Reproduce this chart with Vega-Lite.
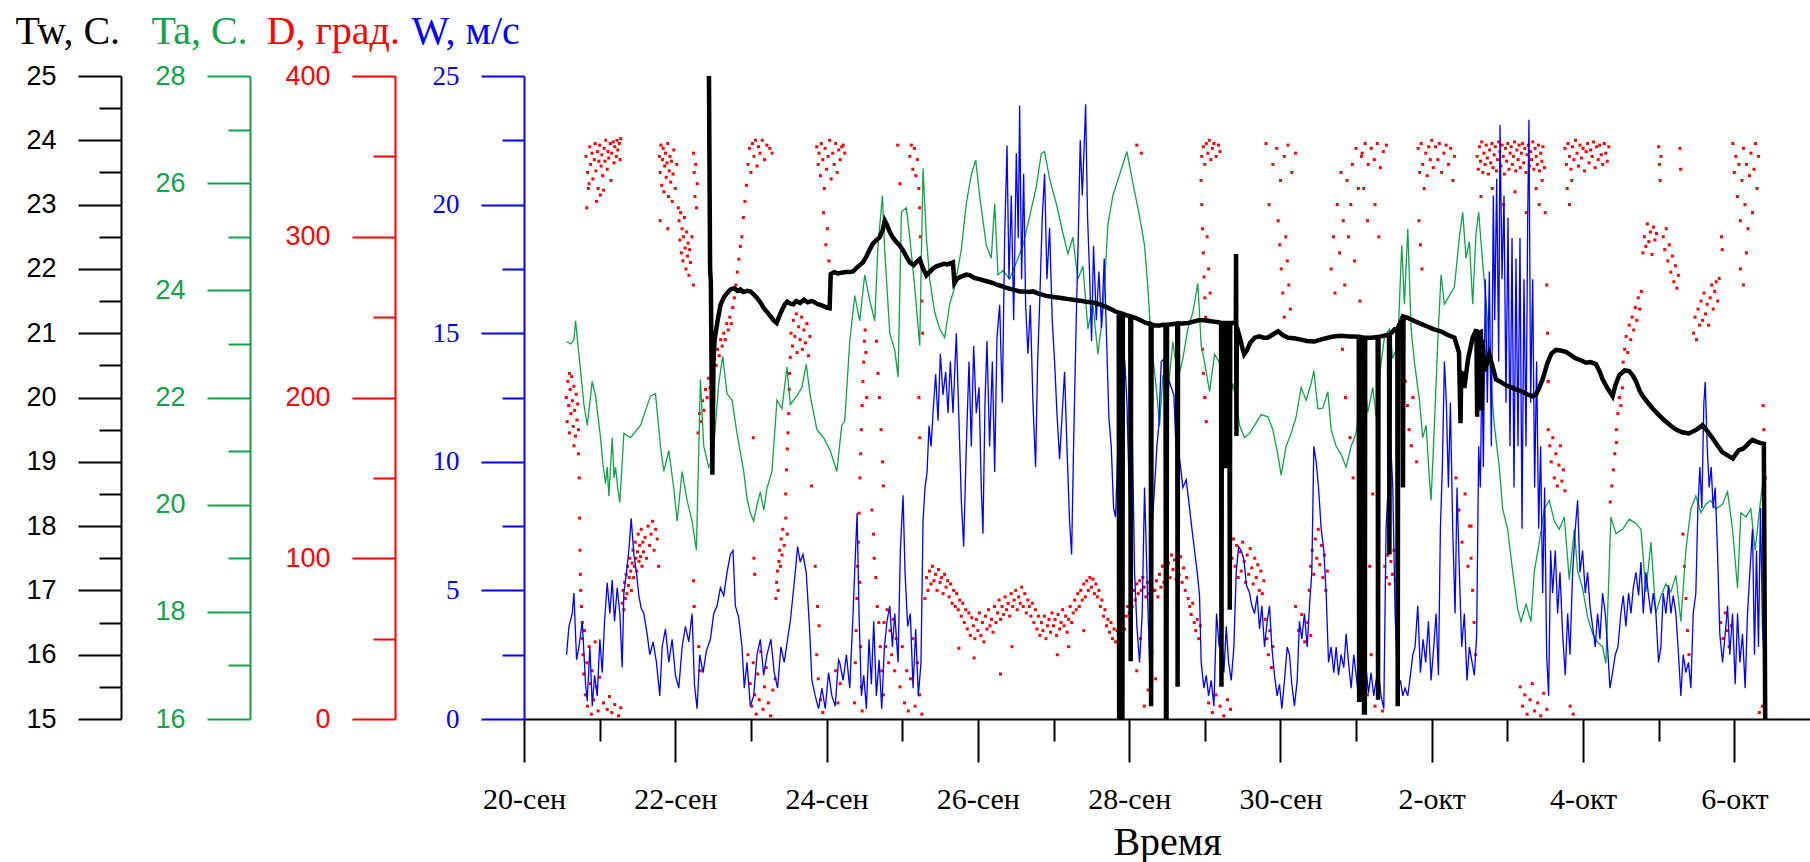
{
"$schema": "https://vega.github.io/schema/vega-lite/v6.json",
"autosize": {"type": "none"},
"padding": {"left": 524, "top": 76, "right": 0, "bottom": 143},
"width": 1286,
"height": 643,
"background": "white",
"config": {"view": {"stroke": null}, "axis": {"grid": false, "domainWidth": 2, "tickWidth": 2, "labelOverlap": false, "labelFlush": false, "titleFontWeight": "normal", "labelFontWeight": "normal"}},
"datasets": {
"tw": [{"d":2.445,"t":25.0},{"d":2.46,"t":22.0},{"d":2.47,"t":21.8},{"d":2.49,"t":18.8},{"d":2.505,"t":20.6},{"d":2.52,"t":20.9},{"d":2.56,"t":21.2},{"d":2.6,"t":21.45},{"d":2.64,"t":21.55},{"d":2.68,"t":21.62},{"d":2.73,"t":21.68},{"d":2.78,"t":21.7},{"d":2.82,"t":21.66},{"d":2.86,"t":21.68},{"d":2.9,"t":21.64},{"d":2.95,"t":21.66},{"d":2.99,"t":21.65},{"d":3.04,"t":21.6},{"d":3.08,"t":21.55},{"d":3.13,"t":21.47},{"d":3.17,"t":21.39},{"d":3.22,"t":21.32},{"d":3.26,"t":21.26},{"d":3.3,"t":21.2},{"d":3.34,"t":21.16},{"d":3.37,"t":21.25},{"d":3.41,"t":21.36},{"d":3.45,"t":21.45},{"d":3.48,"t":21.49},{"d":3.52,"t":21.46},{"d":3.56,"t":21.45},{"d":3.6,"t":21.5},{"d":3.65,"t":21.47},{"d":3.7,"t":21.52},{"d":3.75,"t":21.48},{"d":3.8,"t":21.5},{"d":3.83,"t":21.49},{"d":3.88,"t":21.45},{"d":3.92,"t":21.44},{"d":3.96,"t":21.42},{"d":4.0,"t":21.4},{"d":4.04,"t":21.39},{"d":4.055,"t":21.92},{"d":4.1,"t":21.95},{"d":4.15,"t":21.93},{"d":4.2,"t":21.94},{"d":4.25,"t":21.95},{"d":4.3,"t":21.95},{"d":4.35,"t":21.96},{"d":4.4,"t":22.02},{"d":4.45,"t":22.07},{"d":4.48,"t":22.1},{"d":4.53,"t":22.2},{"d":4.57,"t":22.3},{"d":4.61,"t":22.39},{"d":4.66,"t":22.45},{"d":4.7,"t":22.49},{"d":4.74,"t":22.6},{"d":4.77,"t":22.75},{"d":4.8,"t":22.68},{"d":4.83,"t":22.59},{"d":4.87,"t":22.5},{"d":4.92,"t":22.42},{"d":4.97,"t":22.36},{"d":5.02,"t":22.27},{"d":5.06,"t":22.18},{"d":5.1,"t":22.1},{"d":5.15,"t":22.06},{"d":5.2,"t":22.12},{"d":5.23,"t":22.15},{"d":5.27,"t":22.02},{"d":5.32,"t":21.9},{"d":5.36,"t":21.95},{"d":5.4,"t":22.0},{"d":5.45,"t":22.04},{"d":5.5,"t":22.06},{"d":5.55,"t":22.08},{"d":5.6,"t":22.07},{"d":5.67,"t":22.1},{"d":5.69,"t":21.78},{"d":5.73,"t":21.85},{"d":5.78,"t":21.88},{"d":5.85,"t":21.91},{"d":5.9,"t":21.9},{"d":5.95,"t":21.86},{"d":6.02,"t":21.84},{"d":6.08,"t":21.82},{"d":6.14,"t":21.8},{"d":6.2,"t":21.78},{"d":6.26,"t":21.75},{"d":6.32,"t":21.73},{"d":6.37,"t":21.71},{"d":6.43,"t":21.69},{"d":6.49,"t":21.67},{"d":6.55,"t":21.65},{"d":6.61,"t":21.65},{"d":6.67,"t":21.64},{"d":6.73,"t":21.65},{"d":6.79,"t":21.62},{"d":6.85,"t":21.6},{"d":6.9,"t":21.58},{"d":6.96,"t":21.57},{"d":7.02,"t":21.56},{"d":7.08,"t":21.55},{"d":7.14,"t":21.54},{"d":7.2,"t":21.53},{"d":7.26,"t":21.52},{"d":7.32,"t":21.51},{"d":7.38,"t":21.5},{"d":7.43,"t":21.49},{"d":7.49,"t":21.48},{"d":7.55,"t":21.47},{"d":7.61,"t":21.45},{"d":7.67,"t":21.42},{"d":7.73,"t":21.39},{"d":7.78,"t":21.36},{"d":7.83,"t":21.33},{"d":7.862,"t":21.32},{"d":7.868,"t":14.5},{"d":7.874,"t":21.31},{"d":7.905,"t":21.3},{"d":7.91,"t":14.5},{"d":7.916,"t":21.3},{"d":7.96,"t":21.28},{"d":8.015,"t":21.26},{"d":8.02,"t":15.9},{"d":8.026,"t":21.26},{"d":8.08,"t":21.24},{"d":8.15,"t":21.2},{"d":8.22,"t":21.16},{"d":8.285,"t":21.14},{"d":8.29,"t":15.2},{"d":8.296,"t":21.14},{"d":8.34,"t":21.12},{"d":8.4,"t":21.12},{"d":8.45,"t":21.13},{"d":8.48,"t":21.13},{"d":8.487,"t":14.5},{"d":8.493,"t":14.5},{"d":8.5,"t":21.13},{"d":8.56,"t":21.14},{"d":8.635,"t":21.15},{"d":8.64,"t":15.5},{"d":8.646,"t":21.15},{"d":8.7,"t":21.15},{"d":8.78,"t":21.16},{"d":8.85,"t":21.18},{"d":8.92,"t":21.2},{"d":9.0,"t":21.2},{"d":9.06,"t":21.19},{"d":9.12,"t":21.18},{"d":9.18,"t":21.17},{"d":9.215,"t":21.16},{"d":9.22,"t":15.5},{"d":9.226,"t":21.16},{"d":9.265,"t":21.16},{"d":9.27,"t":18.9},{"d":9.276,"t":21.16},{"d":9.325,"t":21.16},{"d":9.33,"t":16.7},{"d":9.336,"t":21.16},{"d":9.38,"t":21.16},{"d":9.41,"t":21.16},{"d":9.413,"t":22.23},{"d":9.418,"t":19.4},{"d":9.423,"t":21.1},{"d":9.47,"t":20.9},{"d":9.5,"t":20.75},{"d":9.52,"t":20.67},{"d":9.55,"t":20.72},{"d":9.6,"t":20.85},{"d":9.66,"t":20.93},{"d":9.72,"t":20.95},{"d":9.78,"t":20.93},{"d":9.83,"t":20.93},{"d":9.9,"t":20.98},{"d":9.97,"t":21.03},{"d":10.03,"t":20.97},{"d":10.1,"t":20.93},{"d":10.18,"t":20.92},{"d":10.27,"t":20.9},{"d":10.35,"t":20.88},{"d":10.45,"t":20.87},{"d":10.53,"t":20.9},{"d":10.63,"t":20.93},{"d":10.7,"t":20.95},{"d":10.8,"t":20.96},{"d":10.9,"t":20.95},{"d":10.98,"t":20.95},{"d":11.035,"t":20.94},{"d":11.04,"t":15.3},{"d":11.05,"t":15.3},{"d":11.055,"t":20.94},{"d":11.1,"t":20.93},{"d":11.105,"t":15.1},{"d":11.115,"t":15.1},{"d":11.12,"t":20.93},{"d":11.2,"t":20.93},{"d":11.285,"t":20.94},{"d":11.29,"t":15.3},{"d":11.296,"t":20.94},{"d":11.33,"t":20.95},{"d":11.435,"t":20.98},{"d":11.44,"t":17.56},{"d":11.446,"t":20.98},{"d":11.51,"t":21.06},{"d":11.545,"t":21.06},{"d":11.55,"t":15.2},{"d":11.556,"t":21.1},{"d":11.6,"t":21.2},{"d":11.615,"t":21.26},{"d":11.62,"t":18.6},{"d":11.626,"t":21.26},{"d":11.68,"t":21.24},{"d":11.77,"t":21.19},{"d":11.85,"t":21.15},{"d":11.95,"t":21.1},{"d":12.03,"t":21.06},{"d":12.12,"t":21.03},{"d":12.2,"t":20.98},{"d":12.3,"t":20.93},{"d":12.36,"t":20.7},{"d":12.38,"t":19.6},{"d":12.39,"t":20.41},{"d":12.43,"t":20.15},{"d":12.48,"t":20.6},{"d":12.54,"t":20.93},{"d":12.59,"t":21.06},{"d":12.6,"t":19.7},{"d":12.61,"t":21.0},{"d":12.65,"t":21.02},{"d":12.66,"t":19.8},{"d":12.67,"t":20.9},{"d":12.7,"t":20.41},{"d":12.76,"t":20.67},{"d":12.8,"t":20.5},{"d":12.85,"t":20.28},{"d":12.9,"t":20.25},{"d":12.94,"t":20.22},{"d":13.0,"t":20.18},{"d":13.07,"t":20.15},{"d":13.13,"t":20.12},{"d":13.2,"t":20.09},{"d":13.26,"t":20.05},{"d":13.33,"t":20.02},{"d":13.38,"t":20.05},{"d":13.42,"t":20.15},{"d":13.47,"t":20.3},{"d":13.53,"t":20.54},{"d":13.58,"t":20.68},{"d":13.64,"t":20.74},{"d":13.7,"t":20.73},{"d":13.77,"t":20.71},{"d":13.84,"t":20.66},{"d":13.9,"t":20.61},{"d":13.97,"t":20.58},{"d":14.04,"t":20.54},{"d":14.1,"t":20.55},{"d":14.17,"t":20.52},{"d":14.22,"t":20.4},{"d":14.26,"t":20.28},{"d":14.32,"t":20.15},{"d":14.39,"t":20.02},{"d":14.43,"t":20.2},{"d":14.48,"t":20.35},{"d":14.55,"t":20.42},{"d":14.61,"t":20.41},{"d":14.66,"t":20.34},{"d":14.7,"t":20.25},{"d":14.75,"t":20.1},{"d":14.79,"t":20.02},{"d":14.85,"t":19.93},{"d":14.92,"t":19.83},{"d":15.0,"t":19.73},{"d":15.09,"t":19.63},{"d":15.16,"t":19.56},{"d":15.23,"t":19.5},{"d":15.31,"t":19.46},{"d":15.4,"t":19.44},{"d":15.5,"t":19.5},{"d":15.58,"t":19.57},{"d":15.64,"t":19.48},{"d":15.71,"t":19.37},{"d":15.78,"t":19.25},{"d":15.84,"t":19.15},{"d":15.91,"t":19.1},{"d":15.98,"t":19.05},{"d":16.02,"t":19.12},{"d":16.06,"t":19.18},{"d":16.11,"t":19.2},{"d":16.15,"t":19.24},{"d":16.2,"t":19.3},{"d":16.24,"t":19.34},{"d":16.3,"t":19.31},{"d":16.35,"t":19.29},{"d":16.39,"t":19.28},{"d":16.41,"t":14.5}],
"ta": [{"d":0.563,"a":23.04},{"d":0.62,"a":23.0},{"d":0.66,"a":23.08},{"d":0.682,"a":23.43},{"d":0.726,"a":22.8},{"d":0.792,"a":21.87},{"d":0.836,"a":21.48},{"d":0.902,"a":22.3},{"d":0.946,"a":22.03},{"d":1.012,"a":21.25},{"d":1.04,"a":20.8},{"d":1.078,"a":20.39},{"d":1.1,"a":20.7},{"d":1.122,"a":20.16},{"d":1.166,"a":21.25},{"d":1.19,"a":20.5},{"d":1.21,"a":20.7},{"d":1.24,"a":20.3},{"d":1.267,"a":20.04},{"d":1.32,"a":21.33},{"d":1.408,"a":21.25},{"d":1.54,"a":21.48},{"d":1.672,"a":22.03},{"d":1.738,"a":22.07},{"d":1.804,"a":21.09},{"d":1.848,"a":20.62},{"d":1.914,"a":21.01},{"d":1.98,"a":20.31},{"d":2.024,"a":19.69},{"d":2.09,"a":20.62},{"d":2.156,"a":20.08},{"d":2.222,"a":19.69},{"d":2.279,"a":19.15},{"d":2.332,"a":22.34},{"d":2.376,"a":21.09},{"d":2.442,"a":20.7},{"d":2.499,"a":20.9},{"d":2.574,"a":22.26},{"d":2.627,"a":22.77},{"d":2.684,"a":22.07},{"d":2.75,"a":21.95},{"d":2.816,"a":21.33},{"d":2.904,"a":20.62},{"d":2.95,"a":20.1},{"d":2.992,"a":19.85},{"d":3.036,"a":19.69},{"d":3.08,"a":20.0},{"d":3.124,"a":20.24},{"d":3.17,"a":19.9},{"d":3.212,"a":20.31},{"d":3.278,"a":20.62},{"d":3.344,"a":21.95},{"d":3.41,"a":21.79},{"d":3.476,"a":22.57},{"d":3.52,"a":21.87},{"d":3.608,"a":22.03},{"d":3.674,"a":22.19},{"d":3.731,"a":22.62},{"d":3.784,"a":22.03},{"d":3.872,"a":21.4},{"d":3.96,"a":21.25},{"d":4.048,"a":21.01},{"d":4.136,"a":20.62},{"d":4.2,"a":21.48},{"d":4.24,"a":21.56},{"d":4.306,"a":23.04},{"d":4.372,"a":23.9},{"d":4.438,"a":23.43},{"d":4.504,"a":24.29},{"d":4.57,"a":23.82},{"d":4.636,"a":23.43},{"d":4.68,"a":24.84},{"d":4.738,"a":25.77},{"d":4.768,"a":24.76},{"d":4.835,"a":23.2},{"d":4.901,"a":22.89},{"d":4.945,"a":22.38},{"d":4.989,"a":25.46},{"d":5.055,"a":25.54},{"d":5.099,"a":24.99},{"d":5.165,"a":24.06},{"d":5.231,"a":22.97},{"d":5.275,"a":26.28},{"d":5.319,"a":24.99},{"d":5.363,"a":24.21},{"d":5.429,"a":23.59},{"d":5.495,"a":23.28},{"d":5.561,"a":23.12},{"d":5.627,"a":23.74},{"d":5.693,"a":24.06},{"d":5.781,"a":24.76},{"d":5.847,"a":25.62},{"d":5.913,"a":26.16},{"d":5.971,"a":26.43},{"d":6.023,"a":25.77},{"d":6.111,"a":24.84},{"d":6.177,"a":24.6},{"d":6.222,"a":25.62},{"d":6.266,"a":24.29},{"d":6.332,"a":24.37},{"d":6.42,"a":24.21},{"d":6.508,"a":24.52},{"d":6.596,"a":24.84},{"d":6.684,"a":25.38},{"d":6.772,"a":25.93},{"d":6.838,"a":26.55},{"d":6.882,"a":26.59},{"d":6.948,"a":26.08},{"d":7.036,"a":25.62},{"d":7.124,"a":25.07},{"d":7.19,"a":24.68},{"d":7.256,"a":24.99},{"d":7.322,"a":24.21},{"d":7.388,"a":24.45},{"d":7.455,"a":23.28},{"d":7.521,"a":23.74},{"d":7.587,"a":22.81},{"d":7.653,"a":23.59},{"d":7.719,"a":25.23},{"d":7.785,"a":25.77},{"d":7.873,"a":26.16},{"d":7.97,"a":26.59},{"d":8.049,"a":26.0},{"d":8.137,"a":25.38},{"d":8.203,"a":24.84},{"d":8.247,"a":24.06},{"d":8.291,"a":23.04},{"d":8.357,"a":22.19},{"d":8.402,"a":21.48},{"d":8.446,"a":22.42},{"d":8.512,"a":22.11},{"d":8.578,"a":23.04},{"d":8.644,"a":22.34},{"d":8.71,"a":22.73},{"d":8.776,"a":23.28},{"d":8.842,"a":23.59},{"d":8.908,"a":24.13},{"d":8.952,"a":22.97},{"d":8.997,"a":22.65},{"d":9.063,"a":22.11},{"d":9.129,"a":22.81},{"d":9.195,"a":22.65},{"d":9.261,"a":22.19},{"d":9.305,"a":21.72},{"d":9.371,"a":22.26},{"d":9.415,"a":21.95},{"d":9.459,"a":21.48},{"d":9.525,"a":21.25},{"d":9.591,"a":21.33},{"d":9.657,"a":21.48},{"d":9.745,"a":21.68},{"d":9.833,"a":21.64},{"d":9.899,"a":21.4},{"d":9.965,"a":20.94},{"d":10.009,"a":20.55},{"d":10.075,"a":21.09},{"d":10.141,"a":21.33},{"d":10.207,"a":21.64},{"d":10.273,"a":22.19},{"d":10.339,"a":21.95},{"d":10.405,"a":22.26},{"d":10.441,"a":22.5},{"d":10.494,"a":21.79},{"d":10.56,"a":21.8},{"d":10.626,"a":22.11},{"d":10.67,"a":21.4},{"d":10.736,"a":21.09},{"d":10.802,"a":20.94},{"d":10.868,"a":20.7},{"d":10.934,"a":21.09},{"d":11.0,"a":21.33},{"d":11.044,"a":21.87},{"d":11.088,"a":22.65},{"d":11.154,"a":21.72},{"d":11.22,"a":22.19},{"d":11.264,"a":21.64},{"d":11.33,"a":22.65},{"d":11.374,"a":23.12},{"d":11.44,"a":23.28},{"d":11.484,"a":22.73},{"d":11.55,"a":22.97},{"d":11.603,"a":24.84},{"d":11.638,"a":23.74},{"d":11.683,"a":25.15},{"d":11.727,"a":23.28},{"d":11.771,"a":22.65},{"d":11.837,"a":21.95},{"d":11.881,"a":21.25},{"d":11.925,"a":21.48},{"d":11.969,"a":20.47},{"d":11.991,"a":20.08},{"d":12.035,"a":21.48},{"d":12.079,"a":23.04},{"d":12.123,"a":24.29},{"d":12.167,"a":23.74},{"d":12.233,"a":23.9},{"d":12.299,"a":24.06},{"d":12.365,"a":24.99},{"d":12.409,"a":25.46},{"d":12.453,"a":24.6},{"d":12.497,"a":24.91},{"d":12.541,"a":23.74},{"d":12.585,"a":25.07},{"d":12.62,"a":25.46},{"d":12.673,"a":24.52},{"d":12.739,"a":23.43},{"d":12.783,"a":22.26},{"d":12.827,"a":21.48},{"d":12.893,"a":20.7},{"d":12.937,"a":19.92},{"d":13.003,"a":19.54},{"d":13.069,"a":18.76},{"d":13.135,"a":18.06},{"d":13.179,"a":17.82},{"d":13.246,"a":18.14},{"d":13.312,"a":17.82},{"d":13.356,"a":18.76},{"d":13.422,"a":19.3},{"d":13.488,"a":19.92},{"d":13.554,"a":20.08},{"d":13.62,"a":19.69},{"d":13.686,"a":19.54},{"d":13.752,"a":19.77},{"d":13.818,"a":18.6},{"d":13.884,"a":19.54},{"d":13.928,"a":18.76},{"d":13.994,"a":18.44},{"d":14.06,"a":17.9},{"d":14.126,"a":17.59},{"d":14.192,"a":17.43},{"d":14.258,"a":17.35},{"d":14.302,"a":17.04},{"d":14.368,"a":19.77},{"d":14.434,"a":19.46},{"d":14.523,"a":19.54},{"d":14.611,"a":19.73},{"d":14.699,"a":19.65},{"d":14.765,"a":19.54},{"d":14.831,"a":18.37},{"d":14.897,"a":19.3},{"d":14.963,"a":17.98},{"d":15.029,"a":18.29},{"d":15.095,"a":18.52},{"d":15.161,"a":18.37},{"d":15.227,"a":18.68},{"d":15.293,"a":17.82},{"d":15.359,"a":19.15},{"d":15.425,"a":19.92},{"d":15.491,"a":20.16},{"d":15.557,"a":19.85},{"d":15.623,"a":20.01},{"d":15.689,"a":20.08},{"d":15.755,"a":19.92},{"d":15.844,"a":20.01},{"d":15.91,"a":20.24},{"d":15.976,"a":19.54},{"d":16.042,"a":18.44},{"d":16.086,"a":19.85},{"d":16.152,"a":19.77},{"d":16.218,"a":19.92},{"d":16.275,"a":19.15},{"d":16.328,"a":19.85},{"d":16.372,"a":20.39},{"d":16.398,"a":20.24}],
"w": [{"d":0.563,"w":2.5},{"d":0.594,"w":3.6},{"d":0.638,"w":4.1},{"d":0.66,"w":4.9},{"d":0.695,"w":2.3},{"d":0.726,"w":2.8},{"d":0.77,"w":3.8},{"d":0.814,"w":1.35},{"d":0.836,"w":0.7},{"d":0.871,"w":2.8},{"d":0.902,"w":0.5},{"d":0.933,"w":1.7},{"d":0.968,"w":0.9},{"d":1.003,"w":3.1},{"d":1.034,"w":1.8},{"d":1.065,"w":3.8},{"d":1.1,"w":5.3},{"d":1.135,"w":4.1},{"d":1.166,"w":5.4},{"d":1.197,"w":3.8},{"d":1.232,"w":5.1},{"d":1.267,"w":4.1},{"d":1.298,"w":2.0},{"d":1.32,"w":4.9},{"d":1.355,"w":5.7},{"d":1.386,"w":6.55},{"d":1.417,"w":7.8},{"d":1.452,"w":6.4},{"d":1.487,"w":5.7},{"d":1.518,"w":4.8},{"d":1.549,"w":4.3},{"d":1.584,"w":4.1},{"d":1.628,"w":3.3},{"d":1.663,"w":2.5},{"d":1.707,"w":3.0},{"d":1.751,"w":2.2},{"d":1.795,"w":0.9},{"d":1.826,"w":2.8},{"d":1.87,"w":3.5},{"d":1.914,"w":2.2},{"d":1.958,"w":3.1},{"d":2.002,"w":1.7},{"d":2.046,"w":1.2},{"d":2.09,"w":2.8},{"d":2.134,"w":3.6},{"d":2.178,"w":3.0},{"d":2.222,"w":4.1},{"d":2.253,"w":1.35},{"d":2.288,"w":0.4},{"d":2.323,"w":2.5},{"d":2.367,"w":1.8},{"d":2.411,"w":2.65},{"d":2.464,"w":3.1},{"d":2.508,"w":4.1},{"d":2.552,"w":4.4},{"d":2.596,"w":5.1},{"d":2.64,"w":4.8},{"d":2.684,"w":5.7},{"d":2.728,"w":6.4},{"d":2.763,"w":6.55},{"d":2.794,"w":4.4},{"d":2.838,"w":3.95},{"d":2.882,"w":2.8},{"d":2.912,"w":1.2},{"d":2.948,"w":2.2},{"d":2.992,"w":0.5},{"d":3.036,"w":0.9},{"d":3.08,"w":2.5},{"d":3.124,"w":3.1},{"d":3.168,"w":1.7},{"d":3.212,"w":2.5},{"d":3.264,"w":3.1},{"d":3.308,"w":1.8},{"d":3.352,"w":1.2},{"d":3.396,"w":2.8},{"d":3.44,"w":2.2},{"d":3.484,"w":3.1},{"d":3.52,"w":3.8},{"d":3.555,"w":4.8},{"d":3.586,"w":5.7},{"d":3.616,"w":6.7},{"d":3.652,"w":6.1},{"d":3.687,"w":6.4},{"d":3.731,"w":5.7},{"d":3.775,"w":3.5},{"d":3.806,"w":1.5},{"d":3.85,"w":0.9},{"d":3.894,"w":0.4},{"d":3.938,"w":1.2},{"d":3.982,"w":0.4},{"d":4.026,"w":1.8},{"d":4.07,"w":0.9},{"d":4.114,"w":0.5},{"d":4.158,"w":2.3},{"d":4.174,"w":2.2},{"d":4.218,"w":1.5},{"d":4.262,"w":2.5},{"d":4.306,"w":1.2},{"d":4.35,"w":4.1},{"d":4.385,"w":6.7},{"d":4.403,"w":8.0},{"d":4.429,"w":4.1},{"d":4.46,"w":0.9},{"d":4.491,"w":1.7},{"d":4.526,"w":0.4},{"d":4.561,"w":3.1},{"d":4.592,"w":1.35},{"d":4.623,"w":3.8},{"d":4.658,"w":0.9},{"d":4.694,"w":2.3},{"d":4.729,"w":0.4},{"d":4.764,"w":2.8},{"d":4.799,"w":3.8},{"d":4.835,"w":4.4},{"d":4.87,"w":2.8},{"d":4.901,"w":4.1},{"d":4.945,"w":2.2},{"d":4.975,"w":6.55},{"d":5.011,"w":8.7},{"d":5.037,"w":5.7},{"d":5.072,"w":3.6},{"d":5.107,"w":4.1},{"d":5.143,"w":1.2},{"d":5.178,"w":3.5},{"d":5.213,"w":0.9},{"d":5.248,"w":2.2},{"d":5.275,"w":7.7},{"d":5.301,"w":9.0},{"d":5.328,"w":9.6},{"d":5.354,"w":11.4},{"d":5.381,"w":10.6},{"d":5.407,"w":11.9},{"d":5.442,"w":13.4},{"d":5.473,"w":11.6},{"d":5.504,"w":14.2},{"d":5.539,"w":12.6},{"d":5.574,"w":13.5},{"d":5.605,"w":11.9},{"d":5.636,"w":13.9},{"d":5.671,"w":11.9},{"d":5.715,"w":15.0},{"d":5.75,"w":11.6},{"d":5.781,"w":8.5},{"d":5.812,"w":6.7},{"d":5.847,"w":10.6},{"d":5.883,"w":13.9},{"d":5.913,"w":10.6},{"d":5.944,"w":14.5},{"d":5.979,"w":11.9},{"d":6.015,"w":12.9},{"d":6.045,"w":9.0},{"d":6.067,"w":7.2},{"d":6.094,"w":12.3},{"d":6.12,"w":14.7},{"d":6.155,"w":10.6},{"d":6.191,"w":13.9},{"d":6.222,"w":9.6},{"d":6.252,"w":14.8},{"d":6.288,"w":16.1},{"d":6.323,"w":12.3},{"d":6.354,"w":18.7},{"d":6.385,"w":22.3},{"d":6.411,"w":17.1},{"d":6.442,"w":20.35},{"d":6.473,"w":15.5},{"d":6.508,"w":22.0},{"d":6.534,"w":18.7},{"d":6.552,"w":23.85},{"d":6.578,"w":17.1},{"d":6.605,"w":21.2},{"d":6.631,"w":16.1},{"d":6.662,"w":14.2},{"d":6.693,"w":16.1},{"d":6.728,"w":12.3},{"d":6.763,"w":9.8},{"d":6.79,"w":13.9},{"d":6.816,"w":16.1},{"d":6.851,"w":19.5},{"d":6.882,"w":21.2},{"d":6.913,"w":17.1},{"d":6.948,"w":19.1},{"d":6.983,"w":15.5},{"d":7.014,"w":13.9},{"d":7.045,"w":11.9},{"d":7.08,"w":10.1},{"d":7.115,"w":11.9},{"d":7.146,"w":13.5},{"d":7.177,"w":10.6},{"d":7.212,"w":7.7},{"d":7.239,"w":6.4},{"d":7.265,"w":10.6},{"d":7.3,"w":15.5},{"d":7.327,"w":18.7},{"d":7.353,"w":22.5},{"d":7.38,"w":20.35},{"d":7.406,"w":22.3},{"d":7.424,"w":23.9},{"d":7.45,"w":19.5},{"d":7.476,"w":17.4},{"d":7.503,"w":14.7},{"d":7.529,"w":18.4},{"d":7.565,"w":15.5},{"d":7.6,"w":17.4},{"d":7.635,"w":15.2},{"d":7.67,"w":17.9},{"d":7.697,"w":15.2},{"d":7.732,"w":11.7},{"d":7.763,"w":10.6},{"d":7.794,"w":8.2},{"d":7.82,"w":7.85},{"d":7.851,"w":10.6},{"d":7.882,"w":11.9},{"d":7.917,"w":14.2},{"d":7.943,"w":13.9},{"d":7.97,"w":12.3},{"d":8.005,"w":8.3},{"d":8.04,"w":11.3},{"d":8.071,"w":5.7},{"d":8.102,"w":3.6},{"d":8.137,"w":2.2},{"d":8.172,"w":4.1},{"d":8.203,"w":9.0},{"d":8.234,"w":5.7},{"d":8.269,"w":2.2},{"d":8.304,"w":7.4},{"d":8.335,"w":9.0},{"d":8.366,"w":10.6},{"d":8.392,"w":11.4},{"d":8.424,"w":13.9},{"d":8.459,"w":14.0},{"d":8.49,"w":7.4},{"d":8.521,"w":13.2},{"d":8.556,"w":12.9},{"d":8.591,"w":12.6},{"d":8.618,"w":10.6},{"d":8.644,"w":10.6},{"d":8.679,"w":9.8},{"d":8.71,"w":9.0},{"d":8.754,"w":9.3},{"d":8.798,"w":8.2},{"d":8.829,"w":7.4},{"d":8.864,"w":6.55},{"d":8.9,"w":5.7},{"d":8.93,"w":4.8},{"d":8.952,"w":2.2},{"d":8.988,"w":1.2},{"d":9.019,"w":1.7},{"d":9.049,"w":0.9},{"d":9.085,"w":1.5},{"d":9.12,"w":0.5},{"d":9.155,"w":4.1},{"d":9.19,"w":2.8},{"d":9.217,"w":3.5},{"d":9.252,"w":1.8},{"d":9.283,"w":3.6},{"d":9.314,"w":2.2},{"d":9.349,"w":1.5},{"d":9.384,"w":2.8},{"d":9.415,"w":5.7},{"d":9.446,"w":6.7},{"d":9.481,"w":6.55},{"d":9.516,"w":6.2},{"d":9.551,"w":5.2},{"d":9.591,"w":4.9},{"d":9.622,"w":4.4},{"d":9.657,"w":4.1},{"d":9.692,"w":4.8},{"d":9.723,"w":3.5},{"d":9.754,"w":4.4},{"d":9.789,"w":2.8},{"d":9.824,"w":3.8},{"d":9.855,"w":4.4},{"d":9.886,"w":2.8},{"d":9.921,"w":1.7},{"d":9.956,"w":0.9},{"d":9.987,"w":1.35},{"d":10.018,"w":0.4},{"d":10.053,"w":1.5},{"d":10.089,"w":2.8},{"d":10.119,"w":2.5},{"d":10.15,"w":1.35},{"d":10.185,"w":0.5},{"d":10.221,"w":1.5},{"d":10.251,"w":3.8},{"d":10.282,"w":3.1},{"d":10.317,"w":4.1},{"d":10.353,"w":2.8},{"d":10.384,"w":4.4},{"d":10.414,"w":5.7},{"d":10.441,"w":10.6},{"d":10.472,"w":10.0},{"d":10.503,"w":9.0},{"d":10.538,"w":7.4},{"d":10.573,"w":6.55},{"d":10.604,"w":4.9},{"d":10.635,"w":2.2},{"d":10.67,"w":2.8},{"d":10.705,"w":1.8},{"d":10.736,"w":2.8},{"d":10.767,"w":1.7},{"d":10.802,"w":2.5},{"d":10.837,"w":2.0},{"d":10.868,"w":3.3},{"d":10.899,"w":2.2},{"d":10.934,"w":1.2},{"d":10.969,"w":2.5},{"d":11.0,"w":1.7},{"d":11.031,"w":0.9},{"d":11.066,"w":2.8},{"d":11.101,"w":0.5},{"d":11.132,"w":2.0},{"d":11.163,"w":1.0},{"d":11.198,"w":1.8},{"d":11.233,"w":0.9},{"d":11.264,"w":1.5},{"d":11.295,"w":1.8},{"d":11.33,"w":0.9},{"d":11.366,"w":0.4},{"d":11.396,"w":7.4},{"d":11.427,"w":9.3},{"d":11.454,"w":10.9},{"d":11.485,"w":9.0},{"d":11.515,"w":4.1},{"d":11.55,"w":1.2},{"d":11.586,"w":1.5},{"d":11.617,"w":0.9},{"d":11.647,"w":1.2},{"d":11.683,"w":0.9},{"d":11.718,"w":1.7},{"d":11.749,"w":2.5},{"d":11.779,"w":2.8},{"d":11.815,"w":4.4},{"d":11.85,"w":1.8},{"d":11.885,"w":3.1},{"d":11.92,"w":2.2},{"d":11.956,"w":3.8},{"d":11.991,"w":1.5},{"d":12.026,"w":2.8},{"d":12.057,"w":4.1},{"d":12.088,"w":1.7},{"d":12.114,"w":7.4},{"d":12.14,"w":9.8},{"d":12.167,"w":13.9},{"d":12.193,"w":12.3},{"d":12.22,"w":9.0},{"d":12.246,"w":12.3},{"d":12.277,"w":7.4},{"d":12.308,"w":4.1},{"d":12.334,"w":9.0},{"d":12.365,"w":5.7},{"d":12.396,"w":2.8},{"d":12.431,"w":4.1},{"d":12.466,"w":1.5},{"d":12.497,"w":2.8},{"d":12.563,"w":1.7},{"d":12.594,"w":3.3},{"d":12.62,"w":10.6},{"d":12.642,"w":9.0},{"d":12.664,"w":13.9},{"d":12.682,"w":9.8},{"d":12.708,"w":17.1},{"d":12.735,"w":12.3},{"d":12.761,"w":17.4},{"d":12.788,"w":10.6},{"d":12.814,"w":20.35},{"d":12.832,"w":15.5},{"d":12.858,"w":21.0},{"d":12.885,"w":13.9},{"d":12.902,"w":23.1},{"d":12.929,"w":17.1},{"d":12.955,"w":20.35},{"d":12.981,"w":12.3},{"d":13.008,"w":19.5},{"d":13.034,"w":10.6},{"d":13.061,"w":18.7},{"d":13.087,"w":9.0},{"d":13.113,"w":17.9},{"d":13.14,"w":10.6},{"d":13.166,"w":18.7},{"d":13.193,"w":7.4},{"d":13.219,"w":17.1},{"d":13.246,"w":10.6},{"d":13.268,"w":19.4},{"d":13.285,"w":23.3},{"d":13.307,"w":12.3},{"d":13.334,"w":17.1},{"d":13.36,"w":9.0},{"d":13.386,"w":13.9},{"d":13.413,"w":7.4},{"d":13.439,"w":10.6},{"d":13.466,"w":4.9},{"d":13.492,"w":9.0},{"d":13.519,"w":2.5},{"d":13.545,"w":0.9},{"d":13.571,"w":6.55},{"d":13.598,"w":4.9},{"d":13.633,"w":6.55},{"d":13.664,"w":4.1},{"d":13.695,"w":5.7},{"d":13.73,"w":3.3},{"d":13.765,"w":1.7},{"d":13.796,"w":4.1},{"d":13.827,"w":2.5},{"d":13.862,"w":5.7},{"d":13.897,"w":7.4},{"d":13.928,"w":8.5},{"d":13.959,"w":5.7},{"d":13.994,"w":6.55},{"d":14.029,"w":4.9},{"d":14.06,"w":5.7},{"d":14.091,"w":4.4},{"d":14.126,"w":3.6},{"d":14.161,"w":2.8},{"d":14.192,"w":4.1},{"d":14.223,"w":3.1},{"d":14.258,"w":4.9},{"d":14.294,"w":4.1},{"d":14.324,"w":2.8},{"d":14.355,"w":1.2},{"d":14.39,"w":1.8},{"d":14.426,"w":2.5},{"d":14.461,"w":2.8},{"d":14.5,"w":4.1},{"d":14.531,"w":4.8},{"d":14.566,"w":3.6},{"d":14.602,"w":4.9},{"d":14.633,"w":4.1},{"d":14.664,"w":5.1},{"d":14.699,"w":5.7},{"d":14.734,"w":4.8},{"d":14.765,"w":6.1},{"d":14.796,"w":4.1},{"d":14.831,"w":5.7},{"d":14.866,"w":4.8},{"d":14.897,"w":4.1},{"d":14.928,"w":4.9},{"d":14.963,"w":4.1},{"d":14.998,"w":2.2},{"d":15.029,"w":2.8},{"d":15.06,"w":4.9},{"d":15.095,"w":4.1},{"d":15.13,"w":5.2},{"d":15.161,"w":4.1},{"d":15.192,"w":4.8},{"d":15.227,"w":4.1},{"d":15.262,"w":2.5},{"d":15.293,"w":0.9},{"d":15.324,"w":2.5},{"d":15.359,"w":1.8},{"d":15.394,"w":2.2},{"d":15.425,"w":1.2},{"d":15.456,"w":4.1},{"d":15.491,"w":4.9},{"d":15.518,"w":8.2},{"d":15.544,"w":9.8},{"d":15.57,"w":8.2},{"d":15.597,"w":12.3},{"d":15.615,"w":13.1},{"d":15.641,"w":10.6},{"d":15.667,"w":9.0},{"d":15.694,"w":9.8},{"d":15.72,"w":8.2},{"d":15.747,"w":9.0},{"d":15.777,"w":6.55},{"d":15.808,"w":3.3},{"d":15.844,"w":2.2},{"d":15.879,"w":3.3},{"d":15.91,"w":4.4},{"d":15.94,"w":2.5},{"d":15.976,"w":4.1},{"d":16.011,"w":1.35},{"d":16.042,"w":4.1},{"d":16.073,"w":2.2},{"d":16.108,"w":3.3},{"d":16.143,"w":1.2},{"d":16.174,"w":4.1},{"d":16.205,"w":5.7},{"d":16.24,"w":7.4},{"d":16.266,"w":2.5},{"d":16.293,"w":6.55},{"d":16.319,"w":2.8},{"d":16.345,"w":8.2},{"d":16.372,"w":3.6},{"d":16.398,"w":2.0}],
"dr": [{"d":0.56,"v":200},{"d":0.57,"v":185},{"d":0.58,"v":210},{"d":0.59,"v":195},{"d":0.6,"v":178},{"d":0.61,"v":205},{"d":0.62,"v":190},{"d":0.63,"v":213},{"d":0.64,"v":198},{"d":0.65,"v":182},{"d":0.66,"v":207},{"d":0.67,"v":192},{"d":0.68,"v":176},{"d":0.69,"v":202},{"d":0.7,"v":186},{"d":0.71,"v":196},{"d":0.72,"v":180},{"d":0.6,"v":215},{"d":0.66,"v":170},{"d":0.72,"v":165},{"d":0.73,"v":150},{"d":0.735,"v":125},{"d":0.74,"v":105},{"d":0.745,"v":90},{"d":0.75,"v":80},{"d":0.76,"v":70},{"d":0.77,"v":60},{"d":0.77,"v":50},{"d":0.78,"v":40},{"d":0.79,"v":28},{"d":0.8,"v":55},{"d":0.81,"v":15},{"d":0.83,"v":35},{"d":0.84,"v":8},{"d":0.86,"v":45},{"d":0.88,"v":22},{"d":0.89,"v":3},{"d":0.9,"v":30},{"d":0.92,"v":12},{"d":0.94,"v":48},{"d":0.96,"v":20},{"d":0.98,"v":5},{"d":1.0,"v":26},{"d":1.05,"v":10},{"d":1.1,"v":6},{"d":1.13,"v":14},{"d":1.16,"v":4},{"d":1.2,"v":9},{"d":1.25,"v":2},{"d":1.28,"v":7},{"d":0.82,"v":350},{"d":0.84,"v":340},{"d":0.85,"v":330},{"d":0.87,"v":356},{"d":0.88,"v":345},{"d":0.9,"v":352},{"d":0.91,"v":336},{"d":0.93,"v":348},{"d":0.94,"v":358},{"d":0.95,"v":341},{"d":0.97,"v":353},{"d":0.98,"v":330},{"d":0.99,"v":347},{"d":1.0,"v":357},{"d":1.02,"v":344},{"d":1.03,"v":351},{"d":1.04,"v":338},{"d":1.06,"v":355},{"d":1.07,"v":347},{"d":1.08,"v":360},{"d":1.1,"v":342},{"d":1.11,"v":353},{"d":1.12,"v":349},{"d":1.14,"v":358},{"d":1.15,"v":335},{"d":1.16,"v":352},{"d":1.18,"v":359},{"d":1.19,"v":346},{"d":1.2,"v":356},{"d":1.22,"v":350},{"d":1.23,"v":360},{"d":1.24,"v":354},{"d":1.26,"v":358},{"d":1.27,"v":348},{"d":1.28,"v":361},{"d":0.96,"v":322},{"d":1.01,"v":326},{"d":0.83,"v":318},{"d":1.05,"v":329},{"d":0.86,"v":333},{"d":1.3,"v":72},{"d":1.31,"v":80},{"d":1.32,"v":68},{"d":1.33,"v":85},{"d":1.34,"v":75},{"d":1.35,"v":90},{"d":1.36,"v":78},{"d":1.37,"v":95},{"d":1.38,"v":83},{"d":1.39,"v":88},{"d":1.4,"v":100},{"d":1.41,"v":92},{"d":1.42,"v":80},{"d":1.43,"v":97},{"d":1.44,"v":105},{"d":1.45,"v":88},{"d":1.46,"v":95},{"d":1.47,"v":110},{"d":1.48,"v":100},{"d":1.49,"v":92},{"d":1.5,"v":104},{"d":1.51,"v":115},{"d":1.52,"v":98},{"d":1.53,"v":108},{"d":1.54,"v":101},{"d":1.55,"v":118},{"d":1.56,"v":95},{"d":1.57,"v":110},{"d":1.58,"v":104},{"d":1.6,"v":113},{"d":1.62,"v":100},{"d":1.64,"v":120},{"d":1.66,"v":108},{"d":1.68,"v":115},{"d":1.7,"v":123},{"d":1.72,"v":105},{"d":1.74,"v":118},{"d":1.76,"v":112},{"d":1.78,"v":95},{"d":1.79,"v":350},{"d":1.8,"v":340},{"d":1.81,"v":357},{"d":1.82,"v":332},{"d":1.83,"v":348},{"d":1.84,"v":355},{"d":1.85,"v":328},{"d":1.86,"v":344},{"d":1.87,"v":352},{"d":1.88,"v":337},{"d":1.89,"v":346},{"d":1.9,"v":358},{"d":1.91,"v":325},{"d":1.92,"v":341},{"d":1.93,"v":350},{"d":1.94,"v":334},{"d":1.95,"v":347},{"d":1.96,"v":322},{"d":1.97,"v":339},{"d":1.98,"v":354},{"d":2.0,"v":330},{"d":2.02,"v":345},{"d":2.04,"v":318},{"d":1.8,"v":310},{"d":1.9,"v":305},{"d":2.05,"v":310},{"d":2.06,"v":298},{"d":2.07,"v":315},{"d":2.08,"v":290},{"d":2.09,"v":305},{"d":2.1,"v":285},{"d":2.11,"v":300},{"d":2.12,"v":312},{"d":2.13,"v":293},{"d":2.14,"v":280},{"d":2.15,"v":303},{"d":2.16,"v":288},{"d":2.17,"v":296},{"d":2.18,"v":276},{"d":2.19,"v":292},{"d":2.2,"v":284},{"d":2.22,"v":300},{"d":2.24,"v":270},{"d":2.24,"v":352},{"d":2.25,"v":340},{"d":2.26,"v":325},{"d":2.27,"v":345},{"d":2.28,"v":318},{"d":2.29,"v":333},{"d":2.24,"v":86},{"d":2.25,"v":70},{"d":2.31,"v":45},{"d":2.33,"v":30},{"d":2.3,"v":178},{"d":2.32,"v":190},{"d":2.34,"v":185},{"d":2.36,"v":198},{"d":2.38,"v":192},{"d":2.4,"v":205},{"d":2.42,"v":200},{"d":2.44,"v":212},{"d":2.46,"v":206},{"d":2.48,"v":218},{"d":2.5,"v":214},{"d":2.52,"v":224},{"d":2.54,"v":220},{"d":2.56,"v":230},{"d":2.58,"v":226},{"d":2.6,"v":236},{"d":2.62,"v":232},{"d":2.64,"v":240},{"d":2.66,"v":236},{"d":2.68,"v":246},{"d":2.7,"v":242},{"d":2.72,"v":250},{"d":2.74,"v":246},{"d":2.76,"v":256},{"d":2.78,"v":262},{"d":2.8,"v":270},{"d":2.82,"v":278},{"d":2.84,"v":286},{"d":2.86,"v":294},{"d":2.88,"v":300},{"d":2.9,"v":312},{"d":2.92,"v":322},{"d":2.94,"v":332},{"d":2.96,"v":345},{"d":2.98,"v":355},{"d":3.0,"v":340},{"d":3.02,"v":358},{"d":3.04,"v":350},{"d":3.06,"v":360},{"d":3.08,"v":344},{"d":3.1,"v":356},{"d":3.12,"v":352},{"d":3.15,"v":360},{"d":3.18,"v":348},{"d":3.21,"v":357},{"d":3.25,"v":355},{"d":3.28,"v":352},{"d":2.96,"v":40},{"d":2.99,"v":22},{"d":3.01,"v":8},{"d":3.03,"v":35},{"d":3.05,"v":15},{"d":3.07,"v":3},{"d":3.09,"v":28},{"d":3.11,"v":12},{"d":3.13,"v":42},{"d":3.16,"v":6},{"d":3.18,"v":20},{"d":3.2,"v":32},{"d":3.23,"v":10},{"d":3.26,"v":2},{"d":3.29,"v":18},{"d":3.32,"v":25},{"d":3.03,"v":175},{"d":3.04,"v":100},{"d":3.05,"v":90},{"d":3.33,"v":75},{"d":3.34,"v":85},{"d":3.35,"v":92},{"d":3.36,"v":80},{"d":3.37,"v":98},{"d":3.38,"v":105},{"d":3.39,"v":95},{"d":3.4,"v":112},{"d":3.41,"v":102},{"d":3.42,"v":118},{"d":3.44,"v":108},{"d":3.46,"v":125},{"d":3.48,"v":115},{"d":3.46,"v":140},{"d":3.47,"v":155},{"d":3.48,"v":168},{"d":3.49,"v":178},{"d":3.5,"v":190},{"d":3.505,"v":205},{"d":3.51,"v":215},{"d":3.52,"v":225},{"d":3.53,"v":240},{"d":3.55,"v":232},{"d":3.56,"v":248},{"d":3.58,"v":238},{"d":3.6,"v":252},{"d":3.61,"v":228},{"d":3.63,"v":244},{"d":3.65,"v":236},{"d":3.67,"v":250},{"d":3.68,"v":230},{"d":3.7,"v":242},{"d":3.72,"v":234},{"d":3.74,"v":246},{"d":3.76,"v":226},{"d":3.78,"v":238},{"d":3.8,"v":145},{"d":3.85,"v":95},{"d":3.88,"v":70},{"d":3.9,"v":58},{"d":3.87,"v":40},{"d":3.89,"v":25},{"d":3.92,"v":12},{"d":3.95,"v":4},{"d":3.87,"v":356},{"d":3.89,"v":345},{"d":3.9,"v":352},{"d":3.92,"v":338},{"d":3.93,"v":358},{"d":3.95,"v":348},{"d":3.97,"v":330},{"d":3.98,"v":355},{"d":4.0,"v":342},{"d":4.02,"v":350},{"d":4.04,"v":360},{"d":4.06,"v":336},{"d":4.08,"v":352},{"d":4.1,"v":345},{"d":4.12,"v":358},{"d":4.14,"v":340},{"d":4.16,"v":354},{"d":4.18,"v":348},{"d":4.2,"v":356},{"d":3.96,"v":315},{"d":4.01,"v":305},{"d":3.99,"v":295},{"d":4.03,"v":285},{"d":4.12,"v":30},{"d":4.15,"v":10},{"d":4.18,"v":22},{"d":4.22,"v":357},{"d":4.24,"v":352},{"d":4.37,"v":10},{"d":4.38,"v":35},{"d":4.39,"v":55},{"d":4.4,"v":75},{"d":4.41,"v":95},{"d":4.42,"v":110},{"d":4.43,"v":128},{"d":4.44,"v":85},{"d":4.45,"v":45},{"d":4.46,"v":20},{"d":4.47,"v":5},{"d":4.44,"v":150},{"d":4.45,"v":165},{"d":4.46,"v":180},{"d":4.47,"v":195},{"d":4.48,"v":210},{"d":4.49,"v":222},{"d":4.5,"v":235},{"d":4.51,"v":242},{"d":4.52,"v":228},{"d":4.53,"v":200},{"d":4.6,"v":130},{"d":4.62,"v":115},{"d":4.63,"v":100},{"d":4.65,"v":88},{"d":4.67,"v":70},{"d":4.69,"v":60},{"d":4.71,"v":45},{"d":4.73,"v":30},{"d":4.75,"v":15},{"d":4.66,"v":235},{"d":4.68,"v":215},{"d":4.7,"v":200},{"d":4.72,"v":180},{"d":4.74,"v":160},{"d":4.75,"v":145},{"d":4.76,"v":60},{"d":4.78,"v":45},{"d":4.8,"v":68},{"d":4.82,"v":35},{"d":4.84,"v":55},{"d":4.86,"v":40},{"d":4.88,"v":62},{"d":4.9,"v":30},{"d":4.92,"v":50},{"d":4.94,"v":357},{"d":4.97,"v":333},{"d":5.1,"v":350},{"d":5.12,"v":357},{"d":5.14,"v":342},{"d":5.16,"v":355},{"d":5.18,"v":338},{"d":5.2,"v":348},{"d":5.22,"v":330},{"d":5.23,"v":318},{"d":5.24,"v":300},{"d":5.25,"v":285},{"d":5.26,"v":260},{"d":5.27,"v":240},{"d":5.22,"v":200},{"d":5.23,"v":175},{"d":4.97,"v":20},{"d":5.0,"v":45},{"d":5.03,"v":10},{"d":5.06,"v":30},{"d":5.08,"v":5},{"d":5.11,"v":25},{"d":5.14,"v":50},{"d":5.17,"v":8},{"d":5.2,"v":35},{"d":5.23,"v":15},{"d":5.26,"v":3},{"d":5.3,"v":75},{"d":5.32,"v":88},{"d":5.34,"v":80},{"d":5.36,"v":92},{"d":5.38,"v":84},{"d":5.4,"v":95},{"d":5.42,"v":86},{"d":5.44,"v":90},{"d":5.46,"v":80},{"d":5.48,"v":93},{"d":5.5,"v":85},{"d":5.52,"v":88},{"d":5.54,"v":78},{"d":5.56,"v":90},{"d":5.58,"v":82},{"d":5.6,"v":86},{"d":5.62,"v":76},{"d":5.64,"v":84},{"d":5.66,"v":72},{"d":5.68,"v":80},{"d":5.7,"v":70},{"d":5.72,"v":78},{"d":5.74,"v":68},{"d":5.76,"v":74},{"d":5.78,"v":64},{"d":5.8,"v":72},{"d":5.82,"v":60},{"d":5.84,"v":68},{"d":5.86,"v":56},{"d":5.88,"v":66},{"d":5.9,"v":52},{"d":5.92,"v":63},{"d":5.94,"v":58},{"d":5.96,"v":50},{"d":5.98,"v":62},{"d":6.0,"v":55},{"d":6.02,"v":66},{"d":6.04,"v":52},{"d":6.06,"v":60},{"d":6.08,"v":48},{"d":6.1,"v":64},{"d":6.12,"v":56},{"d":6.14,"v":68},{"d":6.16,"v":58},{"d":6.18,"v":62},{"d":6.2,"v":54},{"d":6.22,"v":70},{"d":6.24,"v":60},{"d":6.26,"v":66},{"d":6.28,"v":74},{"d":6.3,"v":62},{"d":6.32,"v":70},{"d":6.34,"v":65},{"d":6.36,"v":76},{"d":6.38,"v":68},{"d":6.4,"v":72},{"d":6.42,"v":64},{"d":6.44,"v":78},{"d":6.46,"v":70},{"d":6.48,"v":74},{"d":6.5,"v":80},{"d":6.52,"v":68},{"d":6.54,"v":76},{"d":6.56,"v":72},{"d":6.58,"v":82},{"d":6.6,"v":70},{"d":6.62,"v":78},{"d":6.64,"v":66},{"d":6.66,"v":74},{"d":6.68,"v":70},{"d":6.7,"v":64},{"d":6.72,"v":72},{"d":6.74,"v":60},{"d":6.76,"v":68},{"d":6.78,"v":56},{"d":6.8,"v":64},{"d":6.82,"v":52},{"d":6.84,"v":60},{"d":6.86,"v":55},{"d":6.88,"v":64},{"d":6.9,"v":50},{"d":6.92,"v":58},{"d":6.94,"v":62},{"d":6.96,"v":54},{"d":6.98,"v":66},{"d":7.0,"v":58},{"d":7.02,"v":62},{"d":7.04,"v":52},{"d":7.06,"v":65},{"d":7.08,"v":56},{"d":7.1,"v":60},{"d":7.12,"v":68},{"d":7.14,"v":58},{"d":7.16,"v":64},{"d":7.18,"v":54},{"d":7.2,"v":62},{"d":7.22,"v":70},{"d":7.24,"v":60},{"d":7.26,"v":66},{"d":7.28,"v":74},{"d":7.3,"v":68},{"d":7.32,"v":78},{"d":7.34,"v":70},{"d":7.36,"v":80},{"d":7.38,"v":74},{"d":7.4,"v":84},{"d":7.42,"v":76},{"d":7.44,"v":86},{"d":7.46,"v":80},{"d":7.48,"v":88},{"d":7.5,"v":82},{"d":7.52,"v":87},{"d":7.54,"v":78},{"d":7.56,"v":84},{"d":7.58,"v":76},{"d":7.6,"v":80},{"d":7.62,"v":70},{"d":7.64,"v":74},{"d":7.66,"v":64},{"d":7.68,"v":68},{"d":7.7,"v":58},{"d":7.72,"v":62},{"d":7.74,"v":54},{"d":7.76,"v":60},{"d":7.78,"v":50},{"d":7.8,"v":56},{"d":7.82,"v":48},{"d":7.84,"v":55},{"d":7.86,"v":50},{"d":7.88,"v":58},{"d":7.9,"v":52},{"d":7.92,"v":60},{"d":7.94,"v":56},{"d":7.96,"v":64},{"d":7.98,"v":70},{"d":8.0,"v":66},{"d":8.02,"v":76},{"d":8.04,"v":70},{"d":8.06,"v":80},{"d":8.08,"v":74},{"d":8.1,"v":84},{"d":8.12,"v":78},{"d":8.14,"v":86},{"d":8.16,"v":80},{"d":8.18,"v":88},{"d":8.2,"v":82},{"d":8.22,"v":76},{"d":8.24,"v":85},{"d":8.26,"v":78},{"d":8.28,"v":82},{"d":8.3,"v":74},{"d":8.32,"v":80},{"d":5.75,"v":44},{"d":5.95,"v":38},{"d":6.3,"v":28},{"d":6.45,"v":45},{"d":7.05,"v":40},{"d":7.2,"v":45},{"d":7.4,"v":55},{"d":8.1,"v":30},{"d":8.15,"v":50},{"d":8.25,"v":18},{"d":8.2,"v":8},{"d":8.3,"v":42},{"d":8.35,"v":25},{"d":8.1,"v":357},{"d":8.16,"v":352},{"d":8.34,"v":80},{"d":8.36,"v":86},{"d":8.38,"v":76},{"d":8.4,"v":90},{"d":8.42,"v":82},{"d":8.44,"v":95},{"d":8.46,"v":85},{"d":8.48,"v":100},{"d":8.5,"v":90},{"d":8.52,"v":97},{"d":8.54,"v":88},{"d":8.56,"v":102},{"d":8.58,"v":93},{"d":8.6,"v":99},{"d":8.62,"v":87},{"d":8.64,"v":96},{"d":8.66,"v":90},{"d":8.68,"v":101},{"d":8.7,"v":85},{"d":8.72,"v":94},{"d":8.74,"v":80},{"d":8.76,"v":88},{"d":8.78,"v":75},{"d":8.8,"v":70},{"d":8.82,"v":65},{"d":8.84,"v":72},{"d":8.86,"v":60},{"d":8.88,"v":55},{"d":8.9,"v":62},{"d":8.92,"v":50},{"d":8.94,"v":58},{"d":8.96,"v":350},{"d":8.98,"v":356},{"d":9.0,"v":345},{"d":9.02,"v":358},{"d":9.04,"v":352},{"d":9.06,"v":360},{"d":9.08,"v":348},{"d":9.1,"v":355},{"d":9.12,"v":358},{"d":9.15,"v":350},{"d":9.18,"v":357},{"d":9.2,"v":353},{"d":8.95,"v":335},{"d":8.96,"v":320},{"d":8.97,"v":305},{"d":8.98,"v":290},{"d":8.99,"v":275},{"d":9.0,"v":262},{"d":9.01,"v":250},{"d":9.03,"v":300},{"d":9.05,"v":280},{"d":9.07,"v":265},{"d":8.97,"v":230},{"d":8.98,"v":215},{"d":9.0,"v":200},{"d":9.02,"v":185},{"d":9.05,"v":10},{"d":9.1,"v":4},{"d":9.15,"v":15},{"d":9.2,"v":8},{"d":9.25,"v":2},{"d":9.3,"v":12},{"d":9.34,"v":6},{"d":9.36,"v":100},{"d":9.38,"v":112},{"d":9.4,"v":95},{"d":9.42,"v":108},{"d":9.44,"v":88},{"d":9.46,"v":104},{"d":9.48,"v":92},{"d":9.5,"v":110},{"d":9.52,"v":98},{"d":9.54,"v":85},{"d":9.56,"v":102},{"d":9.58,"v":90},{"d":9.6,"v":106},{"d":9.62,"v":94},{"d":9.64,"v":84},{"d":9.66,"v":100},{"d":9.68,"v":88},{"d":9.7,"v":96},{"d":9.72,"v":80},{"d":9.74,"v":92},{"d":9.76,"v":78},{"d":9.78,"v":86},{"d":9.8,"v":62},{"d":9.82,"v":50},{"d":9.84,"v":40},{"d":9.86,"v":55},{"d":9.88,"v":32},{"d":9.9,"v":45},{"d":9.81,"v":358},{"d":9.85,"v":320},{"d":9.9,"v":345},{"d":9.95,"v":355},{"d":10.0,"v":335},{"d":10.05,"v":350},{"d":10.1,"v":357},{"d":10.15,"v":340},{"d":10.2,"v":352},{"d":9.97,"v":310},{"d":9.99,"v":295},{"d":10.01,"v":280},{"d":10.03,"v":265},{"d":10.05,"v":250},{"d":10.07,"v":300},{"d":10.09,"v":285},{"d":10.11,"v":270},{"d":10.13,"v":255},{"d":10.2,"v":70},{"d":10.24,"v":55},{"d":10.28,"v":65},{"d":10.32,"v":48},{"d":10.36,"v":60},{"d":10.4,"v":52},{"d":10.38,"v":80},{"d":10.4,"v":95},{"d":10.42,"v":105},{"d":10.44,"v":90},{"d":10.46,"v":112},{"d":10.48,"v":100},{"d":10.5,"v":118},{"d":10.52,"v":96},{"d":10.54,"v":108},{"d":10.56,"v":88},{"d":10.58,"v":102},{"d":10.6,"v":80},{"d":10.62,"v":92},{"d":10.67,"v":280},{"d":10.7,"v":300},{"d":10.72,"v":265},{"d":10.75,"v":320},{"d":10.78,"v":290},{"d":10.8,"v":340},{"d":10.83,"v":310},{"d":10.85,"v":270},{"d":10.88,"v":335},{"d":10.9,"v":300},{"d":10.93,"v":320},{"d":10.95,"v":345},{"d":10.98,"v":285},{"d":11.0,"v":355},{"d":11.03,"v":330},{"d":11.05,"v":260},{"d":11.07,"v":350},{"d":10.82,"v":230},{"d":10.86,"v":200},{"d":10.92,"v":175},{"d":10.96,"v":150},{"d":11.08,"v":352},{"d":11.12,"v":358},{"d":11.16,"v":345},{"d":11.2,"v":355},{"d":11.24,"v":348},{"d":11.28,"v":358},{"d":11.32,"v":343},{"d":11.36,"v":353},{"d":11.4,"v":357},{"d":11.1,"v":330},{"d":11.15,"v":310},{"d":11.25,"v":320},{"d":11.3,"v":300},{"d":11.12,"v":120},{"d":11.18,"v":95},{"d":11.22,"v":140},{"d":11.3,"v":110},{"d":11.38,"v":95},{"d":11.4,"v":88},{"d":11.42,"v":102},{"d":11.44,"v":84},{"d":11.46,"v":98},{"d":11.48,"v":90},{"d":11.5,"v":105},{"d":11.52,"v":86},{"d":11.54,"v":95},{"d":11.56,"v":100},{"d":11.1,"v":30},{"d":11.15,"v":15},{"d":11.2,"v":40},{"d":11.25,"v":8},{"d":11.3,"v":22},{"d":11.35,"v":5},{"d":11.62,"v":230},{"d":11.65,"v":210},{"d":11.68,"v":195},{"d":11.7,"v":180},{"d":11.73,"v":170},{"d":11.75,"v":200},{"d":11.8,"v":160},{"d":11.82,"v":355},{"d":11.84,"v":340},{"d":11.86,"v":358},{"d":11.88,"v":345},{"d":11.9,"v":330},{"d":11.92,"v":352},{"d":11.94,"v":338},{"d":11.96,"v":356},{"d":11.98,"v":348},{"d":12.0,"v":360},{"d":12.02,"v":343},{"d":11.83,"v":310},{"d":11.85,"v":295},{"d":11.87,"v":280},{"d":12.05,"v":356},{"d":12.08,"v":348},{"d":12.1,"v":358},{"d":12.13,"v":340},{"d":12.16,"v":352},{"d":12.19,"v":357},{"d":12.22,"v":345},{"d":12.25,"v":355},{"d":12.28,"v":335},{"d":12.3,"v":350},{"d":12.32,"v":150},{"d":12.36,"v":130},{"d":12.4,"v":110},{"d":12.44,"v":140},{"d":12.48,"v":95},{"d":12.52,"v":120},{"d":12.5,"v":120},{"d":12.52,"v":100},{"d":12.54,"v":80},{"d":12.56,"v":60},{"d":12.58,"v":40},{"d":12.6,"v":350},{"d":12.615,"v":342},{"d":12.63,"v":356},{"d":12.645,"v":347},{"d":12.66,"v":359},{"d":12.675,"v":340},{"d":12.69,"v":352},{"d":12.705,"v":345},{"d":12.72,"v":357},{"d":12.735,"v":349},{"d":12.75,"v":339},{"d":12.765,"v":354},{"d":12.78,"v":346},{"d":12.795,"v":358},{"d":12.81,"v":343},{"d":12.825,"v":351},{"d":12.84,"v":356},{"d":12.855,"v":341},{"d":12.87,"v":348},{"d":12.885,"v":359},{"d":12.9,"v":353},{"d":12.915,"v":344},{"d":12.93,"v":357},{"d":12.945,"v":350},{"d":12.96,"v":339},{"d":12.975,"v":355},{"d":12.99,"v":347},{"d":13.005,"v":358},{"d":13.02,"v":342},{"d":13.035,"v":352},{"d":13.05,"v":356},{"d":13.065,"v":345},{"d":13.08,"v":350},{"d":13.095,"v":359},{"d":13.11,"v":341},{"d":13.125,"v":354},{"d":13.14,"v":348},{"d":13.155,"v":357},{"d":13.17,"v":343},{"d":13.185,"v":352},{"d":13.2,"v":358},{"d":13.215,"v":346},{"d":13.23,"v":355},{"d":13.245,"v":340},{"d":13.26,"v":351},{"d":13.275,"v":357},{"d":13.29,"v":344},{"d":13.305,"v":353},{"d":13.32,"v":348},{"d":13.335,"v":359},{"d":13.35,"v":342},{"d":13.365,"v":355},{"d":13.38,"v":350},{"d":13.395,"v":345},{"d":13.41,"v":357},{"d":13.425,"v":341},{"d":13.44,"v":352},{"d":13.455,"v":347},{"d":13.47,"v":356},{"d":13.49,"v":343},{"d":12.65,"v":325},{"d":12.8,"v":330},{"d":12.95,"v":320},{"d":13.1,"v":328},{"d":13.25,"v":315},{"d":13.38,"v":330},{"d":13.42,"v":320},{"d":13.46,"v":335},{"d":13.5,"v":315},{"d":13.52,"v":270},{"d":13.53,"v":240},{"d":13.54,"v":210},{"d":13.54,"v":180},{"d":13.56,"v":170},{"d":13.58,"v":160},{"d":13.6,"v":175},{"d":13.62,"v":150},{"d":13.64,"v":165},{"d":13.66,"v":145},{"d":13.68,"v":158},{"d":13.7,"v":170},{"d":13.72,"v":148},{"d":13.74,"v":155},{"d":13.76,"v":142},{"d":13.17,"v":20},{"d":13.2,"v":8},{"d":13.23,"v":15},{"d":13.26,"v":3},{"d":13.3,"v":12},{"d":13.33,"v":22},{"d":13.36,"v":5},{"d":13.4,"v":10},{"d":13.44,"v":2},{"d":13.48,"v":16},{"d":13.52,"v":6},{"d":13.76,"v":355},{"d":13.78,"v":345},{"d":13.8,"v":358},{"d":13.82,"v":350},{"d":13.84,"v":342},{"d":13.86,"v":356},{"d":13.88,"v":348},{"d":13.9,"v":360},{"d":13.92,"v":352},{"d":13.94,"v":344},{"d":13.96,"v":357},{"d":13.98,"v":349},{"d":14.0,"v":355},{"d":14.02,"v":341},{"d":14.04,"v":353},{"d":14.06,"v":358},{"d":14.08,"v":346},{"d":14.1,"v":354},{"d":14.12,"v":350},{"d":14.14,"v":359},{"d":14.16,"v":343},{"d":14.18,"v":356},{"d":14.2,"v":348},{"d":14.22,"v":357},{"d":14.24,"v":351},{"d":14.26,"v":345},{"d":14.28,"v":358},{"d":14.3,"v":352},{"d":14.32,"v":347},{"d":14.34,"v":356},{"d":13.79,"v":330},{"d":13.82,"v":320},{"d":13.85,"v":335},{"d":13.83,"v":8},{"d":13.87,"v":3},{"d":14.36,"v":135},{"d":14.38,"v":145},{"d":14.4,"v":155},{"d":14.42,"v":165},{"d":14.44,"v":172},{"d":14.44,"v":180},{"d":14.46,"v":190},{"d":14.48,"v":200},{"d":14.5,"v":195},{"d":14.52,"v":206},{"d":14.53,"v":222},{"d":14.55,"v":230},{"d":14.57,"v":238},{"d":14.59,"v":228},{"d":14.61,"v":245},{"d":14.63,"v":236},{"d":14.65,"v":250},{"d":14.67,"v":242},{"d":14.69,"v":256},{"d":14.71,"v":248},{"d":14.73,"v":262},{"d":14.75,"v":255},{"d":14.77,"v":266},{"d":14.79,"v":290},{"d":14.81,"v":300},{"d":14.83,"v":294},{"d":14.85,"v":308},{"d":14.87,"v":297},{"d":14.89,"v":303},{"d":14.91,"v":289},{"d":14.93,"v":306},{"d":14.95,"v":298},{"d":14.97,"v":302},{"d":15.0,"v":356},{"d":15.01,"v":345},{"d":15.02,"v":335},{"d":15.03,"v":350},{"d":15.06,"v":300},{"d":15.08,"v":292},{"d":15.1,"v":305},{"d":15.12,"v":285},{"d":15.14,"v":295},{"d":15.16,"v":278},{"d":15.18,"v":288},{"d":15.2,"v":272},{"d":15.22,"v":282},{"d":15.24,"v":268},{"d":15.26,"v":276},{"d":15.28,"v":355},{"d":15.29,"v":342},{"d":15.32,"v":115},{"d":15.34,"v":95},{"d":15.36,"v":75},{"d":15.38,"v":55},{"d":15.4,"v":40},{"d":15.46,"v":240},{"d":15.48,"v":250},{"d":15.5,"v":236},{"d":15.52,"v":255},{"d":15.54,"v":245},{"d":15.56,"v":260},{"d":15.58,"v":248},{"d":15.6,"v":265},{"d":15.62,"v":252},{"d":15.64,"v":258},{"d":15.66,"v":245},{"d":15.68,"v":262},{"d":15.7,"v":270},{"d":15.72,"v":255},{"d":15.74,"v":266},{"d":15.76,"v":272},{"d":15.78,"v":260},{"d":15.8,"v":274},{"d":15.82,"v":60},{"d":15.85,"v":50},{"d":15.88,"v":66},{"d":15.9,"v":55},{"d":15.93,"v":45},{"d":15.96,"v":58},{"d":15.83,"v":300},{"d":15.84,"v":292},{"d":15.98,"v":358},{"d":16.0,"v":340},{"d":16.02,"v":350},{"d":16.04,"v":325},{"d":16.06,"v":345},{"d":16.08,"v":310},{"d":16.1,"v":335},{"d":16.12,"v":355},{"d":16.14,"v":320},{"d":16.16,"v":345},{"d":16.18,"v":305},{"d":16.2,"v":338},{"d":16.22,"v":352},{"d":16.24,"v":315},{"d":16.26,"v":342},{"d":16.28,"v":358},{"d":16.3,"v":330},{"d":16.32,"v":350},{"d":16.08,"v":280},{"d":16.12,"v":270},{"d":16.16,"v":290},{"d":16.38,"v":195},{"d":16.39,"v":180},{"d":16.4,"v":165},{"d":16.41,"v":150},{"d":16.33,"v":4},{"d":16.37,"v":8}]
},
"encoding": {
"x": {"field": "d", "type": "quantitative",
"scale": {"domain": [0, 17], "nice": false, "zero": false},
"axis": {"values": [0,1,2,3,4,5,6,7,8,9,10,11,12,13,14,15,16],
"labelExpr": "datum.value % 2 === 0 ? (datum.value <= 10 ? (20 + datum.value) + '-сен' : (datum.value - 10) + '-окт') : ''",
"tickSize": {"condition": {"test": "datum.value % 2 === 0", "value": 43}, "value": 22},
"tickColor": "black", "domainColor": "black", "labelColor": "black",
"labelFont": "Liberation Serif", "labelFontSize": 30, "labelPadding": 22,
"title": "Время", "titleFont": "Liberation Serif", "titleFontSize": 40, "titleColor": "black",
"titleY": 135, "titleBaseline": "alphabetic"}}
},
"layer": [
{"data": {"name": "dr"}, "mark": {"type": "square", "size": 9, "color": "#ff0000", "opacity": 1, "clip": true},
"encoding": {"y": {"field": "v", "type": "quantitative", "scale": {"domain": [0, 400], "nice": false, "zero": false},
"axis": {"orient": "left", "offset": 129, "values": [0,50,100,150,200,250,300,350,400],
"labelExpr": "datum.value % 100 === 0 ? format(datum.value, 'd') : ''",
"tickSize": {"condition": {"test": "datum.value % 100 === 0", "value": 43}, "value": 22},
"labelPadding": 22, "labelFont": "Liberation Sans", "labelFontSize": 27, "labelColor": "#ff0000", "domainColor": "#ff0000", "tickColor": "#ff0000",
"title": "D, град.", "titleAngle": 0, "titleAlign": "left", "titleBaseline": "alphabetic", "titleX": -129, "titleY": -33,
"titleFont": "Liberation Serif", "titleFontSize": 40, "titleColor": "#ff0000"}}}},
{"data": {"name": "ta"}, "mark": {"type": "line", "color": "#13a14a", "strokeWidth": 1.3, "clip": true},
"encoding": {"y": {"field": "a", "type": "quantitative", "scale": {"domain": [16, 28], "nice": false, "zero": false},
"axis": {"orient": "left", "offset": 274, "values": [16,17,18,19,20,21,22,23,24,25,26,27,28],
"labelExpr": "datum.value % 2 === 0 ? format(datum.value, 'd') : ''",
"tickSize": {"condition": {"test": "datum.value % 2 === 0", "value": 43}, "value": 22},
"labelPadding": 22, "labelFont": "Liberation Sans", "labelFontSize": 27, "labelColor": "#13a14a", "domainColor": "#13a14a", "tickColor": "#13a14a",
"title": "Ta, C.", "titleAngle": 0, "titleAlign": "left", "titleBaseline": "alphabetic", "titleX": -99, "titleY": -33,
"titleFont": "Liberation Serif", "titleFontSize": 40, "titleColor": "#13a14a"}}}},
{"data": {"name": "w"}, "mark": {"type": "line", "color": "#0000ff", "strokeWidth": 1.3, "clip": true},
"encoding": {"y": {"field": "w", "type": "quantitative", "scale": {"domain": [0, 25], "nice": false, "zero": false},
"axis": {"orient": "left", "offset": 0, "values": [0,2.5,5,7.5,10,12.5,15,17.5,20,22.5,25],
"labelExpr": "datum.value % 5 === 0 ? format(datum.value, 'd') : ''",
"tickSize": {"condition": {"test": "datum.value % 5 === 0", "value": 43}, "value": 22},
"labelPadding": 22, "labelFont": "Liberation Serif", "labelFontSize": 27, "labelColor": "#0000ff", "domainColor": "#0000ff", "tickColor": "#0000ff",
"title": "W, м/с", "titleAngle": 0, "titleAlign": "left", "titleBaseline": "alphabetic", "titleX": -113, "titleY": -33,
"titleFont": "Liberation Serif", "titleFontSize": 40, "titleColor": "#0000ff"}}}},
{"data": {"name": "tw"}, "mark": {"type": "line", "color": "black", "strokeWidth": 4.5, "clip": true},
"encoding": {"y": {"field": "t", "type": "quantitative", "scale": {"domain": [15, 25], "nice": false, "zero": false},
"axis": {"orient": "left", "offset": 403, "values": [15,15.5,16,16.5,17,17.5,18,18.5,19,19.5,20,20.5,21,21.5,22,22.5,23,23.5,24,24.5,25],
"labelExpr": "datum.value % 1 === 0 ? format(datum.value, 'd') : ''",
"tickSize": {"condition": {"test": "datum.value % 1 === 0", "value": 43}, "value": 22},
"labelPadding": 22, "labelFont": "Liberation Sans", "labelFontSize": 27, "labelColor": "black", "domainColor": "black", "tickColor": "black",
"title": "Tw, C.", "titleAngle": 0, "titleAlign": "left", "titleBaseline": "alphabetic", "titleX": -106, "titleY": -33,
"titleFont": "Liberation Serif", "titleFontSize": 40, "titleColor": "black"}}}}
],
"resolve": {"scale": {"y": "independent"}, "axis": {"y": "independent"}}
}
